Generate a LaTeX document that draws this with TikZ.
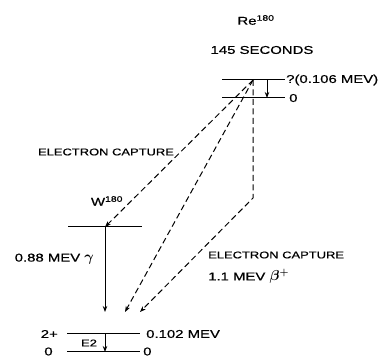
\documentclass[tikz,border=0pt]{standalone}
\usepackage{fontspec}
\usepackage{bm}
\setmainfont{Liberation Sans}[FakeStretch=1.32,FakeBold=0.6]
\usetikzlibrary{arrows.meta}
\begin{document}
\begin{tikzpicture}[x=1pt,y=-1pt,
  lvl/.style={line width=1pt},
  dline/.style={line width=1pt,dash pattern=on 6pt off 3.5pt,-{Stealth[length=6pt,width=4.5pt]}},
  sline/.style={line width=1pt,-{Stealth[length=6pt,width=4.5pt]}},
  lab/.style={inner sep=0pt,font=\fontsize{9.8}{12}\selectfont},
  big/.style={inner sep=0pt,font=\fontsize{11.3}{14}\selectfont}]
\useasboundingbox (0,0) rectangle (386,358);
% Re levels
\coordinate (reAL) at (222,80); \coordinate (reAR) at (285,80);
\coordinate (reBL) at (222,98); \coordinate (reBR) at (285,98);
\draw[lvl] (reAL) -- (reAR);
\draw[lvl] (reBL) -- (reBR);
\node[big] (re) at (256,20) {Re\textsuperscript{180}};
\node[big] (sec) at (262,50) {145 SECONDS};
\node[big,anchor=west] (q) at (286,80) {?(0.106 MEV)};
\node[big,anchor=west] (z1) at (289,98) {0};
\coordinate (sa) at (267,80); \coordinate (sb) at (267,98);
\draw[sline] (sa) -- (sb);
% W level
\coordinate (wL) at (68,227); \coordinate (wR) at (142,227);
\draw[lvl] (wL) -- (wR);
\node[big] (w) at (107,201) {W\textsuperscript{180}};
\node[lab] (ec1) at (106,152) {ELECTRON CAPTURE};
\node[big,anchor=east] (g) at (94,259) {0.88 MEV \Large$\bm{\gamma}$};
% ground levels
\coordinate (aL) at (67,334); \coordinate (aR) at (140,334);
\coordinate (bL) at (67,352); \coordinate (bR) at (140,352);
\draw[lvl] (aL) -- (aR);
\draw[lvl] (bL) -- (bR);
\node[big,anchor=east] (two) at (58,334) {2+};
\node[big,anchor=west] (e102) at (146,334) {0.102 MEV};
\node[big] (z2) at (48.5,351.5) {0};
\node[big,anchor=west] (z3) at (143,351.5) {0};
\node[lab] (e2) at (89,343) {E2};
\coordinate (wa) at (105,227); \coordinate (wb) at (105,312);
\draw[sline] (wa) -- (wb);
\coordinate (ea) at (105,334); \coordinate (eb) at (105,352);
\draw[sline] (ea) -- (eb);
% dashed transitions
\coordinate (o) at (253,80);
\coordinate (t1) at (125,312);
\coordinate (c) at (253,198);
\coordinate (t2) at (140,312);
\draw[dline] (o) -- (wa);
\draw[dline] (o) -- (t1);
\draw[dline] (o) -- (c) -- (t2);
\node[lab,anchor=west] (ec2) at (208,255) {ELECTRON CAPTURE};
\node[big,anchor=west] (b) at (208,276) {1.1 MEV \Large$\bm{\beta^{+}}$};
\end{tikzpicture}
\end{document}
